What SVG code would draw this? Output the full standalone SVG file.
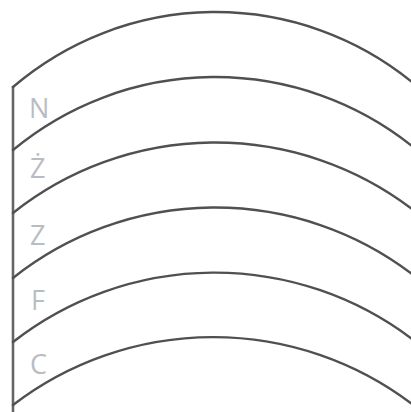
<svg xmlns="http://www.w3.org/2000/svg" width="411" height="412" viewBox="0 0 411 412">
<style>
.arc{fill:none;stroke:#505050;stroke-width:2.4;stroke-linecap:round}
.axis{fill:none;stroke:#666666;stroke-width:2.6}
.lbl{font-family:"Open Sans","Noto Sans",sans-serif;font-size:27px;fill:#b9bdc2}
</style>
<rect width="411" height="412" fill="#ffffff"/>
<g id="connectors">
<path class="axis" d="M13 86 V412"/>
<path class="arc" d="M13 87 A311 311 0 0 1 412 82"/>
<path class="arc" d="M13 150 A316 316 0 0 1 412 146"/>
<path class="arc" d="M13 213 A325 325 0 0 1 412 209"/>
<path class="arc" d="M13 278 A325 325 0 0 1 412 274"/>
<path class="arc" d="M13 342 A327 327 0 0 1 412 339"/>
<path class="arc" d="M13 405 A329 329 0 0 1 412 404"/>
</g>
<g id="N"><text class="lbl" x="29" y="118">N</text></g>
<g id="Zdot"><text class="lbl" x="30" y="178">Ż</text></g>
<g id="Z"><text class="lbl" x="30" y="245">Z</text></g>
<g id="F"><text class="lbl" x="31" y="310">F</text></g>
<g id="C"><text class="lbl" x="30" y="374">C</text></g>
</svg>
